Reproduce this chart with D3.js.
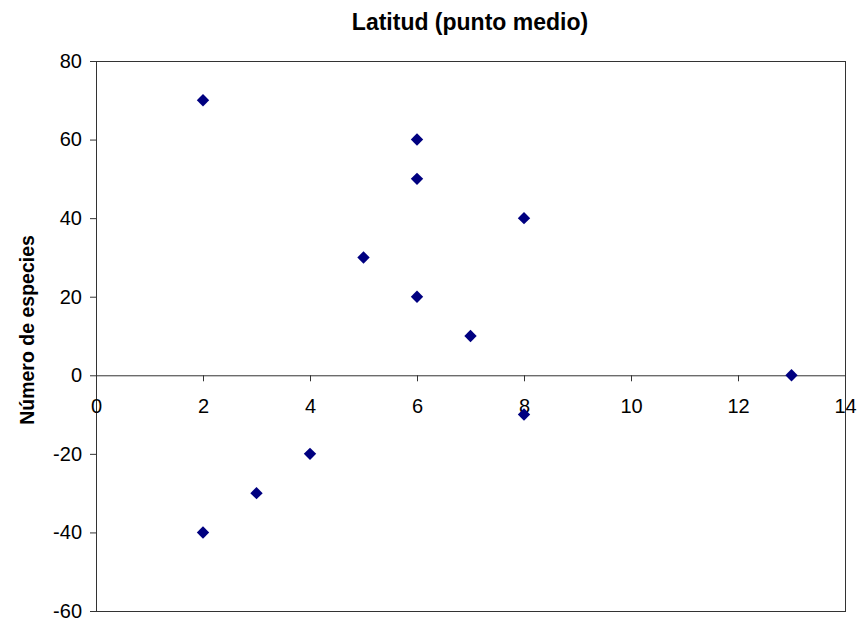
<!DOCTYPE html>
<html>
<head>
<meta charset="utf-8">
<script src="https://cdn.jsdelivr.net/npm/d3@7"></script>
<style>
  body { margin: 0; background: #fff; }
  text { font-family: "Liberation Sans", Arial, sans-serif; }
</style>
</head>
<body>
<script>
var w = 857;
var h = 619;

// data
var latitud = [2, 6, 6, 8, 5, 6, 7, 13, 8, 4, 3, 2];
var especies = [70, 60, 50, 40, 30, 20, 10, 0, -10, -20, -30, -40];
var xTicks = [0, 2, 4, 6, 8, 10, 12, 14];
var yTicks = [-60, -40, -20, 0, 20, 40, 60, 80];

// plot area edges
var plotLeft = 96, plotRight = 845, plotTop = 61, plotBottom = 611;

var xScale = d3.scaleLinear().domain([0, 14]).range([plotLeft, plotRight]);
var yScale = d3.scaleLinear().domain([-60, 80]).range([plotBottom, plotTop]);

var svg = d3.select("body").append("svg")
  .attr("width", w)
  .attr("height", h);

// plot frame
svg.append("rect")
  .attr("x", plotLeft + 0.5).attr("y", plotTop + 0.5)
  .attr("width", plotRight - plotLeft).attr("height", plotBottom - plotTop)
  .attr("fill", "none")
  .attr("stroke", "#333")
  .attr("stroke-width", 1);

// plain hyphen for negatives, like the original
var fmt = function(d) { return String(d); };

// y axis
var yAxis = svg.append("g")
  .attr("transform", "translate(" + plotLeft + ",0)")
  .call(d3.axisLeft(yScale).tickValues(yTicks).tickFormat(fmt).tickSize(6).tickPadding(8));

// x axis sits on y = 0
var xAxis = svg.append("g")
  .attr("transform", "translate(0," + yScale(0) + ")")
  .call(d3.axisBottom(xScale).tickValues(xTicks).tickFormat(fmt).tickSize(6).tickPadding(18));

[xAxis, yAxis].forEach(function(a) {
  a.selectAll("path").attr("stroke", "#333");
  a.selectAll("line").attr("stroke", "#333");
  a.selectAll("text")
    .attr("fill", "#000")
    .style("font-size", "20px")
    .style("font-family", "'Liberation Sans', Arial, sans-serif");
});

var pts = latitud.map(function(d, i) { return [d, especies[i]]; });

svg.selectAll("path.pt")
  .data(pts)
  .enter()
  .append("path")
  .attr("class", "pt")
  .attr("d", d3.symbol().type(d3.symbolDiamond2).size(98))
  .attr("transform", function(d) {
    return "translate(" + xScale(d[0]) + "," + yScale(d[1]) + ")";
  })
  .attr("fill", "#000080");

// titles
svg.append("text")
  .attr("x", 470).attr("y", 30)
  .attr("text-anchor", "middle")
  .style("font-size", "23px")
  .style("font-weight", "bold")
  .text("Latitud (punto medio)");

svg.append("text")
  .attr("transform", "translate(34,330) rotate(-90)")
  .attr("text-anchor", "middle")
  .style("font-size", "19.5px")
  .style("font-weight", "bold")
  .text("Número de especies");
</script>
</body>
</html>
